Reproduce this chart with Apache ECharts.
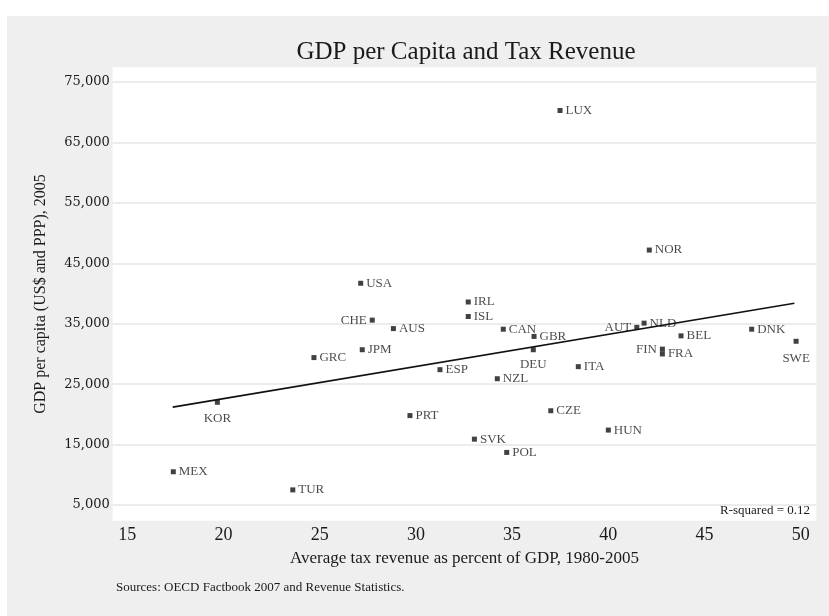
<!DOCTYPE html>
<html>
<head>
<meta charset="utf-8">
<script src="https://cdn.jsdelivr.net/npm/echarts@6/dist/echarts.min.js"></script>
<style>
html,body{margin:0;padding:0;background:#ffffff;}
#chart{width:829px;height:616px;}
</style>
</head>
<body>
<div id="chart"></div>
<script>
// ---- data ----
var countries = ['USA','CHE','AUS','JPM','GRC','KOR','PRT','MEX','TUR','ESP','IRL','ISL','CAN','GBR','DEU','NZL','ITA','AUT','NLD','BEL','FIN','FRA','DNK','SWE','CZE','HUN','SVK','POL','LUX','NOR'];
var taxRevenue = [27.13,27.73,28.83,27.21,24.70,19.68,29.69,17.39,23.60,31.25,32.72,32.72,34.54,36.14,36.10,34.23,38.44,41.48,41.86,43.78,42.81,42.81,47.45,49.76,37.01,40.00,33.04,34.72,37.49,42.13];
var gdpPerCapita = [41700,35600,34200,30700,29400,22000,19800,10500,7500,27400,38600,36200,34100,32900,30700,25900,27900,34400,35100,33000,30800,30000,34100,32100,20600,17400,15900,13700,70300,47200];
var trendX = [17.36, 49.67];
var trendY = [21200, 38400];
var xTicks = [15,20,25,30,35,40,45,50];
var yTicks = [5000,15000,25000,35000,45000,55000,65000,75000];

// ---- label placement (style) ----
var labelPlacement = {
  CHE:{position:'left'}, AUT:{position:'left', offset:[0,-5]}, FIN:{position:'left'},
  KOR:{position:'bottom', distance:7}, DEU:{position:'bottom', distance:6}, SWE:{position:'bottom', distance:8},
  NLD:{position:'right', offset:[0,-8]}, CAN:{position:'right', offset:[0,-6]}
};

var points = countries.map(function(c,i){
  var item = {name:c, value:[taxRevenue[i], gdpPerCapita[i]]};
  if (labelPlacement[c]) item.label = labelPlacement[c];
  return item;
});

var chart = echarts.init(document.getElementById('chart'), null, {renderer:'canvas'});
var serif = 'Liberation Serif';
chart.setOption({
  backgroundColor:'#ffffff',
  animation:false,
  graphic:[
    {type:'rect', z:-10, shape:{x:7,y:16,width:822,height:600}, style:{fill:'#efefef'}},
    {type:'text', style:{text:'GDP per Capita and Tax Revenue', x:466, y:52, textAlign:'center', textVerticalAlign:'middle', font:'25px "Liberation Serif"', fill:'#1a1a1a'}},
    {type:'text', style:{text:'R-squared = 0.12', x:810, y:511, textAlign:'right', textVerticalAlign:'middle', font:'13px "Liberation Serif"', fill:'#1a1a1a'}},
    {type:'text', style:{text:'Sources: OECD Factbook 2007 and Revenue Statistics.', x:116, y:588, textAlign:'left', textVerticalAlign:'middle', font:'13px "Liberation Serif"', fill:'#1a1a1a'}}
  ],
  grid:{left:112.7, right:12.7, top:67.3, bottom:95.3, show:true, backgroundColor:'#ffffff', borderWidth:0},
  xAxis:{
    type:'value', min:14.24, max:50.81,
    name:'Average tax revenue as percent of GDP, 1980-2005',
    nameLocation:'middle', nameGap:27,
    nameTextStyle:{fontFamily:serif, fontSize:17, color:'#1a1a1a'},
    axisLine:{show:false}, axisTick:{show:false, customValues:xTicks},
    axisLabel:{customValues:xTicks, fontFamily:serif, fontSize:18, color:'#1a1a1a', margin:6},
    splitLine:{show:false}
  },
  yAxis:{
    type:'value', min:2400, max:77450,
    name:'GDP per capita (US$ and PPP), 2005',
    nameLocation:'middle', nameGap:64,
    nameTextStyle:{fontFamily:serif, fontSize:16, color:'#1a1a1a'},
    axisLine:{show:false}, axisTick:{show:false, customValues:yTicks},
    axisLabel:{customValues:yTicks, fontFamily:'DejaVu Serif', fontSize:13, color:'#1a1a1a', margin:3,
      formatter:function(v){return Number(v).toLocaleString('en-US');}},
    splitLine:{show:true, lineStyle:{color:'#e6e6e6', width:1.5}}
  },
  series:[
    {
      type:'line', data:trendX.map(function(x,i){return [x,trendY[i]];}),
      symbol:'none', lineStyle:{color:'#111111', width:1.6}, z:3, silent:true
    },
    {
      type:'scatter', data:points, symbol:'rect', symbolSize:5,
      itemStyle:{color:'#111111'}, z:4,
      label:{show:true, position:'right', distance:3, formatter:'{b}', fontFamily:serif, fontSize:13, color:'#1a1a1a'},
      labelLayout:{hideOverlap:false}
    }
  ]
});
</script>
</body>
</html>
